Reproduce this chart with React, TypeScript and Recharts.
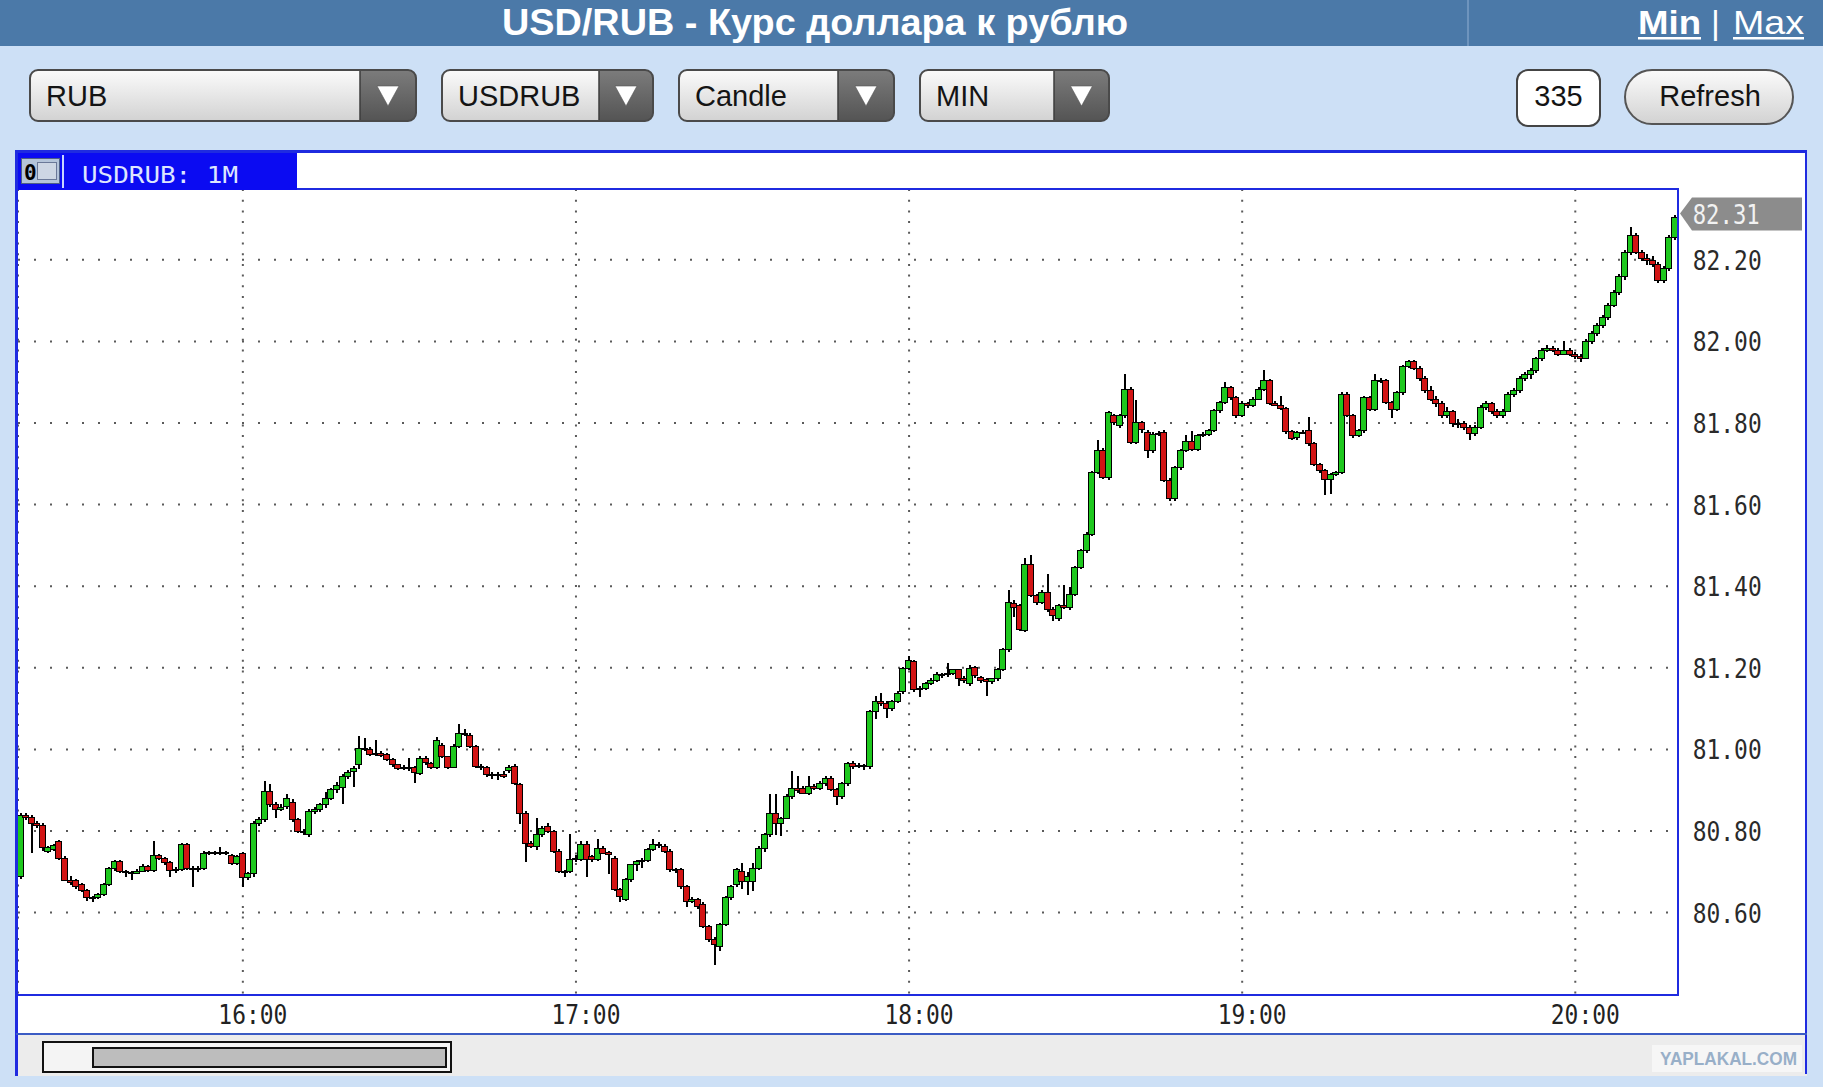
import React from 'react';
import { ComposedChart, Bar, XAxis, YAxis, CartesianGrid, ReferenceLine } from 'recharts';

// ---------- data (USD/RUB, 1-minute candles, 15:20 .. 20:18) ----------
const START_MINUTE = 15 * 60 + 20;

const OPEN = [
  80.690, 80.840, 80.835, 80.820, 80.815, 80.752, 80.757, 80.775, 80.735, 80.680,
  80.680, 80.670, 80.655, 80.637, 80.637, 80.645, 80.670, 80.710, 80.727, 80.702,
  80.700, 80.698, 80.703, 80.713, 80.705, 80.740, 80.733, 80.724, 80.705, 80.708,
  80.767, 80.710, 80.708, 80.710, 80.747, 80.748, 80.745, 80.749, 80.740, 80.722,
  80.745, 80.686, 80.698, 80.820, 80.829, 80.898, 80.865, 80.855, 80.862, 80.872,
  80.829, 80.800, 80.793, 80.849, 80.853, 80.865, 80.882, 80.902, 80.908, 80.935,
  80.947, 80.963, 81.004, 81.000, 80.988, 80.990, 80.988, 80.976, 80.963, 80.957,
  80.958, 80.958, 80.943, 80.980, 80.967, 80.958, 81.010, 80.983, 80.958, 81.008,
  81.041, 81.036, 81.008, 80.959, 80.957, 80.939, 80.937, 80.940, 80.950, 80.959,
  80.914, 80.845, 80.771, 80.762, 80.792, 80.812, 80.800, 80.751, 80.702, 80.702,
  80.731, 80.731, 80.767, 80.739, 80.731, 80.759, 80.749, 80.735, 80.657, 80.633,
  80.682, 80.718, 80.727, 80.730, 80.755, 80.767, 80.763, 80.751, 80.706, 80.706,
  80.665, 80.629, 80.633, 80.620, 80.567, 80.535, 80.518, 80.571, 80.637, 80.669,
  80.702, 80.678, 80.678, 80.710, 80.759, 80.792, 80.845, 80.820, 80.833, 80.886,
  80.906, 80.906, 80.894, 80.910, 80.906, 80.918, 80.931, 80.902, 80.886, 80.918,
  80.967, 80.960, 80.962, 80.959, 81.094, 81.118, 81.114, 81.102, 81.118, 81.143,
  81.200, 81.216, 81.147, 81.151, 81.163, 81.171, 81.184, 81.184, 81.188, 81.196,
  81.176, 81.163, 81.202, 81.178, 81.172, 81.168, 81.174, 81.198, 81.245, 81.358,
  81.353, 81.292, 81.455, 81.378, 81.362, 81.386, 81.345, 81.321, 81.353, 81.349,
  81.382, 81.447, 81.488, 81.529, 81.680, 81.733, 81.668, 81.819, 81.794, 81.819,
  81.884, 81.753, 81.802, 81.778, 81.733, 81.774, 81.778, 81.660, 81.615, 81.692,
  81.733, 81.757, 81.737, 81.770, 81.774, 81.782, 81.831, 81.851, 81.888, 81.864,
  81.820, 81.848, 81.845, 81.860, 81.884, 81.905, 81.850, 81.845, 81.837, 81.780,
  81.765, 81.778, 81.782, 81.750, 81.700, 81.684, 81.663, 81.675, 81.680, 81.872,
  81.820, 81.770, 81.782, 81.864, 81.835, 81.905, 81.905, 81.852, 81.835, 81.876,
  81.940, 81.952, 81.935, 81.910, 81.880, 81.860, 81.850, 81.820, 81.830, 81.800,
  81.800, 81.790, 81.775, 81.790, 81.840, 81.850, 81.830, 81.820, 81.830, 81.870,
  81.880, 81.910, 81.920, 81.930, 81.960, 81.980, 81.985, 81.980, 81.970, 81.980,
  81.970, 81.965, 81.960, 82.000, 82.020, 82.040, 82.060, 82.090, 82.120, 82.160,
  82.220, 82.260, 82.220, 82.205, 82.200, 82.190, 82.150, 82.180, 82.257,
];

const HIGH = [
  80.845, 80.845, 80.840, 80.825, 80.820, 80.762, 80.768, 80.778, 80.738, 80.690,
  80.683, 80.672, 80.658, 80.640, 80.647, 80.672, 80.712, 80.730, 80.730, 80.705,
  80.703, 80.706, 80.718, 80.716, 80.776, 80.743, 80.736, 80.727, 80.712, 80.770,
  80.770, 80.713, 80.713, 80.750, 80.751, 80.750, 80.760, 80.752, 80.743, 80.741,
  80.748, 80.700, 80.825, 80.835, 80.922, 80.914, 80.870, 80.865, 80.890, 80.878,
  80.832, 80.805, 80.855, 80.860, 80.868, 80.896, 80.906, 80.920, 80.940, 80.950,
  80.960, 81.033, 81.028, 81.005, 81.022, 80.995, 80.990, 80.978, 80.965, 80.962,
  80.980, 80.960, 80.985, 80.985, 80.970, 81.030, 81.015, 80.985, 81.012, 81.061,
  81.050, 81.040, 81.010, 80.963, 80.960, 80.945, 80.945, 80.947, 80.962, 80.965,
  80.918, 80.850, 80.775, 80.833, 80.812, 80.820, 80.803, 80.755, 80.705, 80.792,
  80.740, 80.775, 80.775, 80.742, 80.780, 80.763, 80.752, 80.738, 80.660, 80.685,
  80.720, 80.730, 80.733, 80.758, 80.780, 80.772, 80.767, 80.755, 80.710, 80.710,
  80.668, 80.637, 80.636, 80.625, 80.570, 80.540, 80.575, 80.640, 80.668, 80.710,
  80.722, 80.700, 80.722, 80.762, 80.795, 80.890, 80.890, 80.835, 80.890, 80.947,
  80.935, 80.910, 80.935, 80.915, 80.922, 80.935, 80.934, 80.905, 80.920, 80.970,
  80.972, 80.966, 80.965, 81.096, 81.131, 81.139, 81.118, 81.122, 81.142, 81.203,
  81.229, 81.220, 81.155, 81.165, 81.175, 81.190, 81.188, 81.212, 81.198, 81.198,
  81.180, 81.208, 81.205, 81.180, 81.175, 81.175, 81.200, 81.248, 81.390, 81.365,
  81.356, 81.468, 81.476, 81.382, 81.390, 81.431, 81.348, 81.356, 81.402, 81.398,
  81.450, 81.490, 81.532, 81.683, 81.758, 81.738, 81.830, 81.823, 81.823, 81.921,
  81.888, 81.856, 81.806, 81.782, 81.778, 81.780, 81.782, 81.664, 81.695, 81.736,
  81.770, 81.780, 81.773, 81.777, 81.786, 81.834, 81.854, 81.900, 81.891, 81.867,
  81.853, 81.852, 81.863, 81.887, 81.929, 81.908, 81.853, 81.865, 81.840, 81.783,
  81.781, 81.782, 81.815, 81.753, 81.703, 81.687, 81.678, 81.683, 81.875, 81.875,
  81.823, 81.785, 81.867, 81.867, 81.920, 81.910, 81.908, 81.855, 81.879, 81.943,
  81.955, 81.955, 81.940, 81.915, 81.890, 81.865, 81.855, 81.840, 81.833, 81.810,
  81.805, 81.795, 81.795, 81.845, 81.855, 81.852, 81.835, 81.835, 81.875, 81.885,
  81.915, 81.925, 81.935, 81.962, 81.985, 81.990, 81.988, 81.983, 82.000, 81.983,
  81.975, 81.968, 82.005, 82.025, 82.045, 82.065, 82.095, 82.125, 82.165, 82.225,
  82.280, 82.265, 82.225, 82.215, 82.210, 82.195, 82.185, 82.260, 82.310,
];

const LOW = [
  80.685, 80.830, 80.750, 80.810, 80.755, 80.748, 80.754, 80.732, 80.678, 80.670,
  80.662, 80.652, 80.630, 80.628, 80.634, 80.642, 80.667, 80.706, 80.700, 80.690,
  80.684, 80.695, 80.700, 80.702, 80.702, 80.730, 80.720, 80.690, 80.700, 80.705,
  80.707, 80.665, 80.700, 80.706, 80.744, 80.742, 80.742, 80.744, 80.718, 80.719,
  80.665, 80.682, 80.690, 80.815, 80.825, 80.860, 80.833, 80.850, 80.855, 80.825,
  80.798, 80.792, 80.788, 80.845, 80.848, 80.860, 80.878, 80.895, 80.870, 80.930,
  80.910, 80.955, 80.998, 80.985, 80.985, 80.982, 80.974, 80.958, 80.952, 80.952,
  80.950, 80.920, 80.940, 80.965, 80.955, 80.955, 80.980, 80.955, 80.955, 81.005,
  81.035, 81.005, 80.955, 80.950, 80.935, 80.930, 80.928, 80.932, 80.945, 80.915,
  80.820, 80.727, 80.760, 80.758, 80.788, 80.798, 80.748, 80.698, 80.690, 80.698,
  80.725, 80.728, 80.690, 80.728, 80.728, 80.745, 80.698, 80.655, 80.629, 80.630,
  80.678, 80.706, 80.710, 80.727, 80.752, 80.760, 80.748, 80.702, 80.700, 80.660,
  80.616, 80.624, 80.612, 80.563, 80.530, 80.473, 80.510, 80.568, 80.633, 80.665,
  80.660, 80.645, 80.657, 80.706, 80.751, 80.788, 80.792, 80.792, 80.830, 80.882,
  80.895, 80.892, 80.890, 80.902, 80.902, 80.914, 80.900, 80.865, 80.882, 80.914,
  80.955, 80.955, 80.952, 80.955, 81.078, 81.110, 81.078, 81.098, 81.114, 81.140,
  81.196, 81.143, 81.131, 81.148, 81.160, 81.168, 81.178, 81.180, 81.185, 81.159,
  81.165, 81.160, 81.178, 81.165, 81.133, 81.162, 81.170, 81.195, 81.240, 81.325,
  81.292, 81.290, 81.375, 81.358, 81.358, 81.340, 81.317, 81.318, 81.345, 81.345,
  81.378, 81.443, 81.484, 81.525, 81.676, 81.664, 81.664, 81.798, 81.790, 81.815,
  81.750, 81.750, 81.780, 81.717, 81.730, 81.770, 81.656, 81.611, 81.611, 81.688,
  81.730, 81.733, 81.734, 81.766, 81.771, 81.779, 81.828, 81.848, 81.860, 81.815,
  81.817, 81.840, 81.842, 81.857, 81.881, 81.847, 81.842, 81.834, 81.777, 81.760,
  81.762, 81.774, 81.747, 81.697, 81.681, 81.625, 81.630, 81.672, 81.677, 81.817,
  81.767, 81.767, 81.779, 81.832, 81.832, 81.900, 81.849, 81.815, 81.832, 81.873,
  81.937, 81.932, 81.905, 81.875, 81.855, 81.840, 81.815, 81.815, 81.795, 81.790,
  81.785, 81.760, 81.770, 81.788, 81.835, 81.825, 81.815, 81.815, 81.828, 81.865,
  81.875, 81.905, 81.910, 81.925, 81.955, 81.975, 81.975, 81.965, 81.968, 81.965,
  81.960, 81.950, 81.958, 81.995, 82.015, 82.035, 82.055, 82.085, 82.115, 82.155,
  82.215, 82.215, 82.200, 82.190, 82.185, 82.145, 82.145, 82.175, 82.250,
];

const CLOSE = [
  80.840, 80.835, 80.820, 80.815, 80.760, 80.760, 80.765, 80.735, 80.680, 80.675,
  80.665, 80.655, 80.637, 80.635, 80.645, 80.670, 80.710, 80.727, 80.702, 80.700,
  80.698, 80.703, 80.715, 80.705, 80.740, 80.733, 80.724, 80.705, 80.708, 80.767,
  80.710, 80.708, 80.710, 80.747, 80.748, 80.745, 80.749, 80.747, 80.722, 80.738,
  80.686, 80.698, 80.820, 80.830, 80.898, 80.865, 80.855, 80.860, 80.882, 80.829,
  80.800, 80.797, 80.849, 80.855, 80.865, 80.882, 80.902, 80.912, 80.935, 80.945,
  80.955, 81.004, 81.000, 80.988, 80.992, 80.986, 80.976, 80.963, 80.955, 80.958,
  80.955, 80.945, 80.980, 80.968, 80.958, 81.024, 80.983, 80.958, 81.008, 81.041,
  81.038, 81.008, 80.959, 80.956, 80.939, 80.937, 80.940, 80.935, 80.958, 80.918,
  80.845, 80.771, 80.762, 80.792, 80.808, 80.800, 80.751, 80.702, 80.700, 80.731,
  80.733, 80.767, 80.731, 80.731, 80.759, 80.747, 80.743, 80.657, 80.641, 80.682,
  80.718, 80.727, 80.730, 80.755, 80.767, 80.765, 80.751, 80.706, 80.704, 80.665,
  80.629, 80.633, 80.616, 80.567, 80.535, 80.524, 80.571, 80.637, 80.665, 80.706,
  80.678, 80.690, 80.710, 80.759, 80.792, 80.845, 80.820, 80.833, 80.886, 80.906,
  80.900, 80.894, 80.910, 80.906, 80.918, 80.931, 80.902, 80.886, 80.918, 80.967,
  80.959, 80.962, 80.959, 81.094, 81.118, 81.114, 81.102, 81.118, 81.139, 81.200,
  81.220, 81.147, 81.151, 81.163, 81.171, 81.184, 81.182, 81.188, 81.196, 81.176,
  81.170, 81.200, 81.182, 81.170, 81.168, 81.174, 81.198, 81.245, 81.362, 81.350,
  81.296, 81.455, 81.378, 81.362, 81.386, 81.345, 81.329, 81.353, 81.349, 81.382,
  81.447, 81.488, 81.529, 81.680, 81.733, 81.668, 81.827, 81.802, 81.819, 81.884,
  81.753, 81.802, 81.785, 81.733, 81.774, 81.776, 81.660, 81.615, 81.692, 81.733,
  81.757, 81.737, 81.770, 81.774, 81.782, 81.831, 81.851, 81.888, 81.864, 81.819,
  81.850, 81.845, 81.860, 81.884, 81.905, 81.850, 81.845, 81.837, 81.780, 81.763,
  81.778, 81.779, 81.750, 81.700, 81.684, 81.663, 81.675, 81.680, 81.872, 81.820,
  81.770, 81.782, 81.864, 81.835, 81.905, 81.903, 81.852, 81.835, 81.876, 81.940,
  81.952, 81.935, 81.910, 81.880, 81.860, 81.850, 81.820, 81.830, 81.800, 81.800,
  81.790, 81.775, 81.790, 81.840, 81.850, 81.830, 81.820, 81.830, 81.870, 81.880,
  81.910, 81.920, 81.930, 81.960, 81.980, 81.985, 81.980, 81.970, 81.980, 81.970,
  81.965, 81.960, 82.000, 82.020, 82.040, 82.060, 82.090, 82.120, 82.160, 82.220,
  82.260, 82.220, 82.205, 82.200, 82.190, 82.150, 82.180, 82.257, 82.306,
];

const X_TICKS = ['16:00', '17:00', '18:00', '19:00', '20:00'];
const Y_TICKS = [80.6, 80.8, 81.0, 81.2, 81.4, 81.6, 81.8, 82.0, 82.2];
const Y_DOMAIN: [number, number] = [80.398, 82.3735];

const TITLE = 'USD/RUB - Курс доллара к рублю';
const SERIES_LABEL = 'USDRUB: 1M';
const CONTROLS = [
  { label: 'RUB', x: 30, w: 386, arrowX: 360 },
  { label: 'USDRUB', x: 442, w: 211, arrowX: 599 },
  { label: 'Candle', x: 679, w: 215, arrowX: 838 },
  { label: 'MIN', x: 920, w: 189, arrowX: 1054 },
];
const COUNT_LABEL = '335';
const REFRESH_LABEL = 'Refresh';

// ---------- derived table ----------
const pad2 = (n: number) => String(n).padStart(2, '0');
const TIMES = OPEN.map((_, i) => {
  const m = START_MINUTE + i;
  return `${pad2(Math.floor(m / 60))}:${pad2(m % 60)}`;
});
const DATA = TIMES.map((t, i) => ({ t, open: OPEN[i], high: HIGH[i], low: LOW[i], close: CLOSE[i] }));
const LAST = CLOSE[CLOSE.length - 1];

const GREEN = '#1ec81e';
const RED = '#d21414';
const MONO = "'DejaVu Sans Mono', 'Liberation Mono', monospace";
const SANS = "'Liberation Sans', Arial, Helvetica, sans-serif";
const FRAME = '#1f2be0';

function Candle(props: any) {
  const { x, y, width, height, payload } = props;
  if (!payload || y == null || height == null || isNaN(y)) return null;
  const { open, close, high, low } = payload;
  const range = high - low;
  const k = range > 0 ? height / range : 0;
  const yO = y + (high - open) * k;
  const yC = y + (high - close) * k;
  const c = Math.round(x + width / 2);
  const up = close >= open;
  const top = Math.round(Math.min(yO, yC));
  const bot = Math.round(Math.max(yO, yC));
  const h = Math.max(bot - top, 1);
  return (
    <g shapeRendering="crispEdges">
      <rect x={c - 1} y={Math.round(y)} width={2} height={Math.max(Math.round(height), 1) + 1} fill="#000" />
      <rect x={c - 3.5} y={top + 0.5} width={6} height={h} fill={up ? GREEN : RED} stroke="#000" strokeWidth={1} />
    </g>
  );
}

function XTick(props: any) {
  const { x, payload } = props;
  return (
    <text x={x + 10} y={874} textAnchor="middle" fontFamily={MONO} fontSize={27} fill="#222"
      textLength={69} lengthAdjust="spacingAndGlyphs">
      {payload.value}
    </text>
  );
}

function YTick(props: any) {
  const { y, payload } = props;
  return (
    <text x={1676.7} y={y + 10} textAnchor="start" fontFamily={MONO} fontSize={27} fill="#2a2a2a"
      textLength={69} lengthAdjust="spacingAndGlyphs">
      {Number(payload.value).toFixed(2)}
    </text>
  );
}

function PriceTag(props: any) {
  const vb = props.viewBox || {};
  const r = (vb.x ?? 0) + (vb.width ?? 0);
  const y = (vb.y ?? 0) - 3;
  const pts = [
    [r + 2, y], [r + 14, y - 16], [r + 124, y - 16], [r + 124, y + 17], [r + 14, y + 17],
  ].map((p) => p.join(',')).join(' ');
  return (
    <g>
      <polygon points={pts} fill="#8c8c8c" />
      <text x={r + 14.7} y={y + 10} fontFamily={MONO} fontSize={27} fill="#f2f2f2"
        textLength={67} lengthAdjust="spacingAndGlyphs">
        {LAST.toFixed(2)}
      </text>
    </g>
  );
}

function Dropdown({ label, x, w, arrowX }: { label: string; x: number; w: number; arrowX: number }) {
  const y = 70, h = 51;
  const cx = (arrowX + x + w) / 2;
  const cy = 95;
  return (
    <g>
      <rect x={x} y={y} width={w} height={h} rx={8} fill="url(#gLight)" />
      <rect x={arrowX} y={y} width={x + w - arrowX} height={h} rx={8} fill="url(#gDark)" />
      <rect x={arrowX} y={y} width={12} height={h} fill="url(#gDark)" />
      <line x1={arrowX} x2={arrowX} y1={y} y2={y + h} stroke="#3c3c3c" strokeWidth={1.5} />
      <rect x={x} y={y} width={w} height={h} rx={8} fill="none" stroke="#4a4a4a" strokeWidth={2} />
      <polygon points={`${cx - 11},${cy - 9} ${cx + 11},${cy - 9} ${cx},${cy + 11}`} fill="#ffffff" stroke="#555" strokeWidth={0.6} />
      <text x={x + 16} y={106} fontFamily={SANS} fontSize={29} fill="#141414">{label}</text>
    </g>
  );
}

export default function App() {
  return (
    <div style={{ position: 'absolute', left: 0, top: 0, width: 1823, height: 1087, background: '#cde0f6', overflow: 'hidden' }}>
      {/* background layer */}
      <svg width={1823} height={1087} style={{ position: 'absolute', left: 0, top: 0 }}>
        <defs>
          <linearGradient id="gLight" x1="0" y1="0" x2="0" y2="1">
            <stop offset="0" stopColor="#fbfbfb" />
            <stop offset="1" stopColor="#d2d2d2" />
          </linearGradient>
          <linearGradient id="gDark" x1="0" y1="0" x2="0" y2="1">
            <stop offset="0" stopColor="#7c7c7c" />
            <stop offset="1" stopColor="#545454" />
          </linearGradient>
        </defs>
        {/* header */}
        <rect x={0} y={0} width={1823} height={46} fill="#4b79a8" />
        <rect x={1467} y={0} width={2} height={46} fill="#6e94bd" />
        <text x={815} y={35} textAnchor="middle" fontFamily={SANS} fontWeight="bold" fontSize={37} fill="#ffffff"
          textLength={626} lengthAdjust="spacingAndGlyphs">{TITLE}</text>
        <text x={1638} y={34} fontFamily={SANS} fontWeight="bold" fontSize={34} fill="#ffffff" textLength={63} lengthAdjust="spacingAndGlyphs">Min</text>
        <rect x={1638} y={37} width={63} height={2.5} fill="#ffffff" />
        <text x={1711} y={34} fontFamily={SANS} fontSize={34} fill="#ffffff">|</text>
        <text x={1733} y={34} fontFamily={SANS} fontSize={34} fill="#ffffff" textLength={71} lengthAdjust="spacingAndGlyphs">Max</text>
        <rect x={1733} y={37} width={71} height={2.5} fill="#ffffff" />

        {/* controls */}
        {CONTROLS.map((c) => (
          <Dropdown key={c.label} {...c} />
        ))}
        <rect x={1517} y={70} width={83} height={56} rx={11} fill="#ffffff" stroke="#444" strokeWidth={2} />
        <text x={1558.5} y={106} textAnchor="middle" fontFamily={SANS} fontSize={29} fill="#141414">{COUNT_LABEL}</text>
        <rect x={1625} y={70} width={168} height={54} rx={27} fill="url(#gLight)" stroke="#555" strokeWidth={2} />
        <text x={1710} y={106} textAnchor="middle" fontFamily={SANS} fontSize={29} fill="#141414">{REFRESH_LABEL}</text>

        {/* panel */}
        <rect x={16} y={150} width={1791} height={885} fill="#ffffff" />
        <rect x={16} y={1035} width={1791} height={41} fill="#ececec" />
        <rect x={43} y={1042} width={408} height={30} fill="#f4f4f4" stroke="#111" strokeWidth={2} />
        <rect x={93} y={1048} width={353} height={19} fill="#bdbdbd" stroke="#111" strokeWidth={2} />
        <rect x={1652} y={1045} width={150} height={27} fill="#f6f6f6" />
        <text x={1660} y={1065} fontFamily={SANS} fontWeight={900} fontSize={19} fill="#98afc8"
          textLength={137} lengthAdjust="spacingAndGlyphs">YAPLAKAL.COM</text>
      </svg>

      {/* chart */}
      <div style={{ position: 'absolute', left: 16, top: 150 }}>
        <ComposedChart width={1790} height={886} data={DATA} margin={{ top: 39, right: 0, bottom: 0, left: 2 }}>
          <CartesianGrid vertical={false} stroke="#5a5a5a" strokeWidth={2} strokeDasharray="2 14" />
          <CartesianGrid horizontal={false} stroke="#5a5a5a" strokeWidth={2} strokeDasharray="2 8.7" />
          <XAxis dataKey="t" ticks={X_TICKS} interval={0} tickLine={false} axisLine={false} height={41} tick={<XTick />} />
          <YAxis orientation="right" type="number" domain={Y_DOMAIN} ticks={Y_TICKS} allowDataOverflow
            width={128} tickLine={false} axisLine={false} tick={<YTick />} />
          <Bar dataKey={(d: any) => [d.low, d.high]} shape={Candle} isAnimationActive={false} />
          <ReferenceLine y={LAST} stroke="none" label={<PriceTag />} />
        </ComposedChart>
      </div>

      {/* foreground frame */}
      <svg width={1823} height={1087} style={{ position: 'absolute', left: 0, top: 0, pointerEvents: 'none' }}>
        <g shapeRendering="crispEdges">
          <rect x={16} y={150} width={281} height={40} fill="#0b0bf2" />
          <rect x={16} y={150} width={1791} height={3} fill={FRAME} />
          <rect x={15} y={150} width={3} height={926} fill={FRAME} />
          <rect x={1805} y={150} width={2} height={924} fill={FRAME} />
          <rect x={297} y={188} width={1382} height={2} fill={FRAME} />
          <rect x={1677} y={188} width={2} height={808} fill={FRAME} />
          <rect x={16} y={994} width={1663} height={2} fill={FRAME} />
          <rect x={16} y={1033} width={1791} height={2} fill="#3b5cc4" />
          <rect x={21} y={158} width={38} height={25} fill="#b4c4da" stroke="#4e5f86" strokeWidth={1} />
          <rect x={37} y={162} width={19} height={17} fill="#cdd6e4" stroke="#6a7898" strokeWidth={1} />
          <rect x={62} y={155} width={2} height={33} fill="#c8d4ff" />
        </g>
        <text x={24} y={180} fontFamily={MONO} fontWeight="bold" fontSize={21} fill="#000">0</text>
        <text x={82} y={183} fontFamily={MONO} fontSize={23} fill="#dde5ff" textLength={156} lengthAdjust="spacingAndGlyphs">{SERIES_LABEL}</text>
      </svg>
    </div>
  );
}
